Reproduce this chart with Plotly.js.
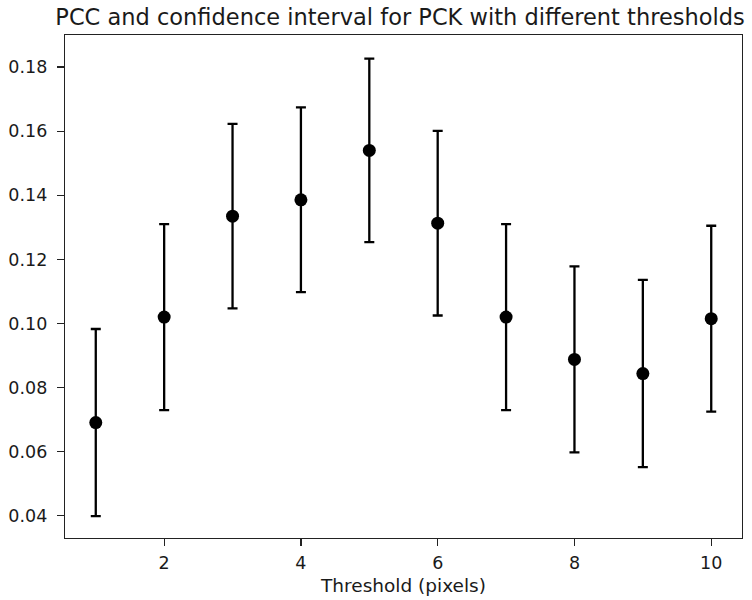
<!DOCTYPE html>
<html>
<head>
<meta charset="utf-8">
<script src="https://cdn.plot.ly/plotly-3.0.1.min.js"></script>
<style>html,body{margin:0;padding:0;background:#fff;}#chart{width:752px;height:600px;}</style>
</head>
<body>
<div id="chart"></div>
<script>
const thresholds = [1, 2, 3, 4, 5, 6, 7, 8, 9, 10];
const pcc = [0.0691, 0.1020, 0.1335, 0.1386, 0.1540, 0.1313, 0.1020, 0.0888, 0.0844, 0.1015];
const ciHalf = [0.0292, 0.0290, 0.0288, 0.0288, 0.0286, 0.0288, 0.0290, 0.0290, 0.0292, 0.0290];
const yTicks = [0.04, 0.06, 0.08, 0.10, 0.12, 0.14, 0.16, 0.18];
const xTicks = [2, 4, 6, 8, 10];

const trace = {
  x: thresholds,
  y: pcc,
  type: 'scatter',
  mode: 'markers',
  marker: {color: '#000', size: 13},
  error_y: {type: 'data', array: ciHalf, visible: true, color: '#000', thickness: 2.3, width: 5}
};

const layout = {
  width: 752, height: 600,
  margin: {l: 65, r: 10, t: 35, b: 62},
  paper_bgcolor: '#fff', plot_bgcolor: '#fff',
  font: {family: 'DejaVu Sans, sans-serif', color: '#1a1a1a', size: 17.5},
  title: {text: 'PCC and confidence interval for PCK with different thresholds', font: {size: 22.5, family: 'DejaVu Sans', color: '#1a1a1a'}, x: 0.532, xanchor: 'center', y: 0.972, yanchor: 'middle'},
  xaxis: {
    range: [0.55, 10.45], tickvals: xTicks, ticktext: xTicks.map(String),
    showgrid: false, zeroline: false, showline: true, mirror: true, linecolor: '#222', linewidth: 1.2,
    ticks: 'outside', ticklen: 7, tickcolor: '#222', tickwidth: 1.2, ticklabelstandoff: 2,
    title: {text: 'Threshold (pixels)', font: {size: 18.5}, standoff: 6}
  },
  yaxis: {
    range: [0.0331, 0.1900], tickvals: yTicks, ticktext: yTicks.map(v => v.toFixed(2)),
    showgrid: false, zeroline: false, showline: true, mirror: true, linecolor: '#222', linewidth: 1.2,
    ticks: 'outside', ticklen: 7, tickcolor: '#222', tickwidth: 1.2, ticklabelstandoff: 6
  },
  showlegend: false
};

Plotly.newPlot('chart', [trace], layout, {displayModeBar: false, staticPlot: true});
</script>
</body>
</html>
